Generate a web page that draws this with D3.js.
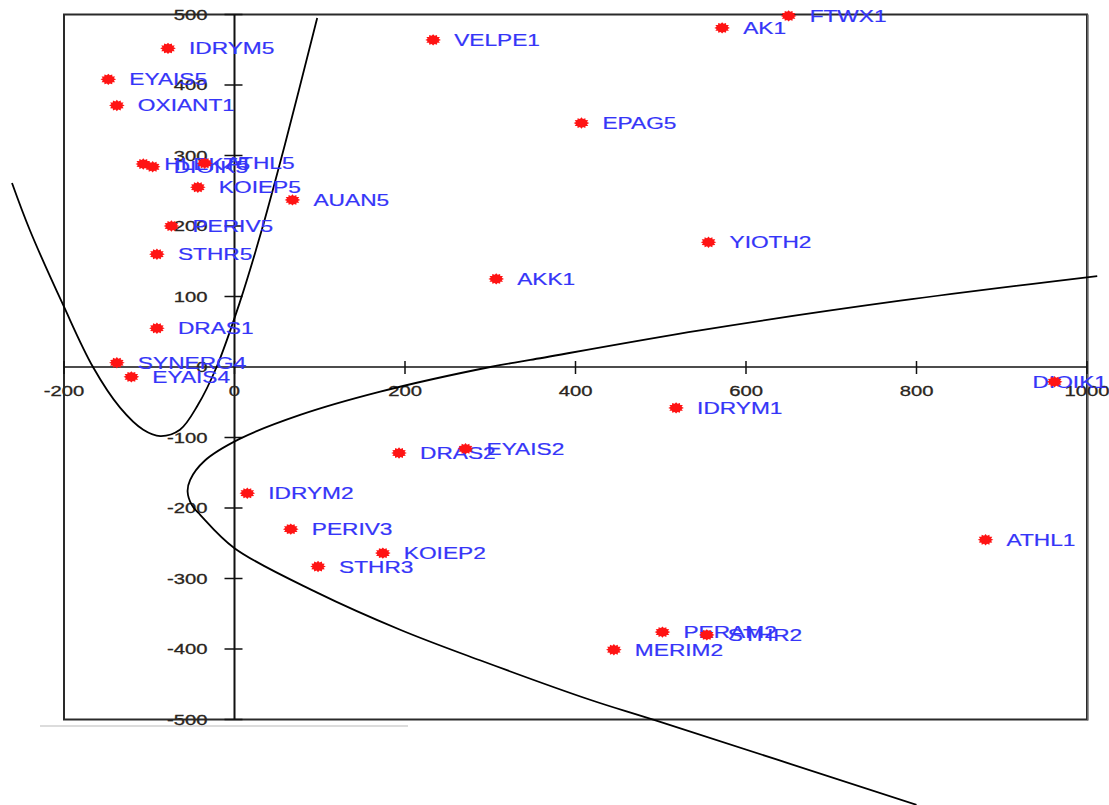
<!DOCTYPE html>
<html>
<head>
<meta charset="utf-8">
<script src="https://cdn.jsdelivr.net/npm/d3@7"></script>
<style>
  body { margin: 0; background: #fff; }
  text { font-family: "Liberation Sans", Arial, sans-serif; }
</style>
</head>
<body>
<svg id="chart"></svg>
<script>
// point labels and coordinates
const names = ['IDRYM5', 'EYAIS5', 'OXIANT1', 'HLEKT5', 'DIOIK5', 'ATHL5', 'KOIEP5', 'AUAN5', 'PERIV5', 'STHR5',
  'DRAS1', 'SYNERG4', 'EYAIS4', 'VELPE1', 'EPAG5', 'AK1', 'FTWX1', 'YIOTH2', 'AKK1', 'DIOIK1',
  'IDRYM1', 'DRAS2', 'EYAIS2', 'ATHL1', 'IDRYM2', 'PERIV3', 'KOIEP2', 'STHR3', 'PERAM2', 'STHR2', 'MERIM2']
const xValues = [-78, -148, -138, -107, -96, -35, -43, 68, -74, -91,
  -91, -138, -121, 233, 407, 572, 650, 556, 307, 962,
  518, 193, 271, 881, 15, 66, 174, 98, 502, 554, 445]
const yValues = [452, 408, 371, 288, 284, 289, 255, 237, 200, 160,
  55, 6, -14, 464, 346, 481, 498, 177, 125, -21,
  -58, -122, -116, -245, -179, -230, -264, -283, -376, -380, -401]

const xTicks = [-200, 0, 200, 400, 600, 800, 1000]
const yTicks = [500, 400, 300, 200, 100, 0, -100, -200, -300, -400, -500]

// the two hand drawn boundary curves
const curve1X = [-261, -240, -201, -166, -134, -107, -87, -64, -43, -21, 6, 30, 59, 97]
const curve1Y = [261, 194, 88, 0, -58, -89, -98, -89, -54, 0, 91, 186, 315, 495]
const curve2X = [1012, 781, 546, 347, 300, 171, 77, 6, -35, -52, -55, -50, -40, 0, 97, 195, 288, 417, 493, 800]
const curve2Y = [129, 94, 52, 10, 0, -35, -68, -102, -133, -160, -177, -196, -210, -257, -320, -373, -416, -472, -501, -621]

const W = 1109, H = 805
const SX = 1.42   // the picture is stretched sideways

const svg = d3.select('#chart').attr('width', W).attr('height', H)

const x = d3.scaleLinear().domain([-200, 1000]).range([64, 1087])
const y = d3.scaleLinear().domain([-500, 500]).range([719.5, 14.5])

// faint line under the frame
svg.append('line').attr('x1', 40).attr('x2', 408).attr('y1', 726).attr('y2', 726)
  .attr('stroke', '#d0d0d0').attr('stroke-width', 1.5)

// frame (with the darker right edge)
svg.append('rect').attr('x', x(-200)).attr('y', y(500))
  .attr('width', x(1000) - x(-200)).attr('height', y(-500) - y(500))
  .attr('fill', 'none').attr('stroke', '#2a2a2a').attr('stroke-width', 2)
svg.append('line').attr('x1', x(1000) + 1).attr('x2', x(1000) + 1).attr('y1', y(500)).attr('y2', y(-500) + 1)
  .attr('stroke', '#777').attr('stroke-width', 1.5)

// zero axes
svg.append('line').attr('x1', x(-200)).attr('x2', x(1000)).attr('y1', y(0)).attr('y2', y(0))
  .attr('stroke', '#111').attr('stroke-width', 1.5)
svg.append('line').attr('x1', x(0)).attr('x2', x(0)).attr('y1', y(500)).attr('y2', y(-500))
  .attr('stroke', '#111').attr('stroke-width', 2)

// x ticks
const xt = svg.append('g')
xTicks.forEach(t => {
  xt.append('line').attr('x1', x(t)).attr('x2', x(t)).attr('y1', y(0) - 6).attr('y2', y(0) + 7)
    .attr('stroke', '#111').attr('stroke-width', 1.5)
  xt.append('g').attr('transform', `translate(${x(t)},${y(0) + 29}) scale(1.35,1)`)
    .append('text').attr('text-anchor', 'middle').attr('font-size', '15px')
    .attr('fill', '#2a2520').attr('stroke', '#2a2520').attr('stroke-width', 0.3)
    .text(t)
})

// y ticks
const yt = svg.append('g')
yTicks.forEach(t => {
  if (t !== 0) {
    yt.append('line').attr('x1', x(0) - 10).attr('x2', x(0) + 8).attr('y1', y(t)).attr('y2', y(t))
      .attr('stroke', '#111').attr('stroke-width', 1.5)
  }
  yt.append('g').attr('transform', `translate(${x(0) - 27},${y(t) + 5}) scale(1.35,1)`)
    .append('text').attr('text-anchor', 'end').attr('font-size', '15px')
    .attr('fill', '#2a2520').attr('stroke', '#2a2520').attr('stroke-width', 0.3)
    .text(t)
})

// curves
const line = d3.line().x(d => x(d[0])).y(d => y(d[1])).curve(d3.curveCatmullRom.alpha(0.5))
svg.append('path').attr('d', line(d3.zip(curve1X, curve1Y)))
  .attr('fill', 'none').attr('stroke', '#000').attr('stroke-width', 1.8)
svg.append('path').attr('d', line(d3.zip(curve2X, curve2Y)))
  .attr('fill', 'none').attr('stroke', '#000').attr('stroke-width', 1.8)

// labels (drawn first, the markers sit on top of them)
const lab = svg.append('g')
names.forEach((n, i) => {
  const px = x(xValues[i]), py = y(yValues[i])
  const g = lab.append('g')
  const t = g.append('text').attr('font-size', '16px').attr('fill', '#3535f8')
    .attr('stroke', '#3535f8').attr('stroke-width', 0.2).text(n)
  const w = t.node().getComputedTextLength() * SX
  let lx = px + 21
  if (lx + w > W - 2) lx = W - 2 - w
  g.attr('transform', `translate(${lx},${py + 6}) scale(${SX},1)`)
})

// burst markers: a round blob with short teeth
const teeth = 12
const burstPath = d3.lineRadial().curve(d3.curveLinearClosed)(
  d3.range(teeth * 2).map(k => [k * Math.PI / teeth, k % 2 ? 4.4 : 6]))
const pts = svg.append('g')
names.forEach((n, i) => {
  const px = x(xValues[i]), py = y(yValues[i])
  pts.append('path').attr('d', burstPath)
    .attr('transform', `translate(${px},${py}) scale(1.3,0.95)`)
    .attr('fill', '#ff1414')
})
</script>
</body>
</html>
